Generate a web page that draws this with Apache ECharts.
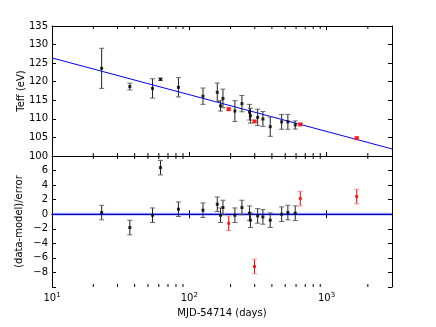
<!DOCTYPE html>
<html lang="en">
<head>
    <meta charset="UTF-8">
    <title>Teff fit</title>
    <script src="https://cdn.jsdelivr.net/npm/echarts@6/dist/echarts.min.js"></script>
</head>
<body style="margin:0">
<div id="main" style="width: 436px;height:327px;"></div>
<script>
    // black points (days since MJD 54714)
    var days = [23.0, 36.9, 54.0, 61.7, 83.4, 125.9, 160, 169, 176, 215, 242, 275, 279, 315, 344, 389, 471, 523, 592];
    var teff = [123.6, 118.7, 118.2, 120.65, 118.5, 116.1, 117.15, 113.5, 115.5, 112.1, 114.1, 111.8, 110.85, 110.4, 109.96, 107.9, 109.2, 109.2, 108.35];
    var teffErr = [5.4, 0.9, 2.6, 0.3, 2.6, 2.2, 2.5, 1.4, 2.5, 2.8, 2.2, 2.1, 2.0, 2.2, 2.0, 2.6, 2.0, 2.0, 1.1];
    var resid = [0.23, -1.83, -0.14, 6.4, 0.69, 0.55, 1.37, -0.14, 0.92, -0.14, 0.92, 0.14, -0.82, -0.23, -0.37, -0.82, 0.0, 0.23, 0.14];

    // red points
    var redDays = [194, 299, 644, 1660];
    var redTeff = [112.6, 109.3, 108.5, 104.8];
    var redErr = [0.3, 0.3, 0.3, 0.3];
    var redResid = [-1.24, -7.18, 2.15, 2.43];

    var residErr = 1;

    // model line end points and zero line
    var modelLine = [[10, 126.4], [3000, 101.9]];
    var zeroLine = [[10, 0], [3000, 0]];

    var majorX = [10, 100, 1000];
    var minorX = [20, 30, 40, 50, 60, 70, 80, 90, 200, 300, 400, 500, 600, 700, 800, 900, 2000];

    var myChart = echarts.init(document.getElementById('main'));
    var font = 'DejaVu Sans';

    function xAx(grid, pos, labels) {
        return {
            type: 'log', logBase: 10, min: 10, max: 3000, gridIndex: grid, position: pos,
            axisLine: {show: true, lineStyle: {color: '#000', width: 1}},
            axisTick: {show: true, inside: true, length: 4, lineStyle: {color: '#000'}},
            axisLabel: labels ? {
                show: true, margin: 5,
                formatter: function (v) {
                    if (majorX.indexOf(v) < 0) return '';
                    return '{b|10}{s|' + Math.round(Math.log10(v)) + '}';
                },
                rich: {
                    b: {fontFamily: font, fontSize: 10, color: '#000', lineHeight: 13},
                    s: {fontFamily: font, fontSize: 7, color: '#000', lineHeight: 13, verticalAlign: 'top'}
                }
            } : {show: false},
            splitLine: {show: false},
            name: labels ? 'MJD-54714 (days)' : '',
            nameLocation: 'middle', nameGap: 21,
            nameTextStyle: {fontFamily: font, fontSize: 10, color: '#000'}
        };
    }

    function yAx(grid, pos, min, max, labels, name, fmt) {
        return {
            type: 'value', gridIndex: grid, position: pos, min: min, max: max, interval: grid === 0 ? 5 : 2,
            axisLine: {show: true, lineStyle: {color: '#000', width: 1}},
            axisTick: {show: true, inside: true, length: 4, lineStyle: {color: '#000'}},
            axisLabel: {show: labels, margin: 4, fontFamily: font, fontSize: 10, color: '#000', formatter: fmt},
            splitLine: {show: false},
            name: labels ? name : '', nameLocation: 'middle', nameGap: grid === 0 ? 26 : 28,
            nameMoveOverlap: false,
            nameTextStyle: {fontFamily: font, fontSize: 10, color: '#000'}
        };
    }

    function residFmt(v) {
        if (v === 8 || v === -10) return '';
        return v < 0 ? '\u2212' + Math.abs(v) : '' + v;
    }

    function errBars(color, capColor) {
        return function (params, api) {
            var x = api.value(0);
            var p1 = api.coord([x, api.value(1)]);
            var p2 = api.coord([x, api.value(2)]);
            var w = 2.5;
            return {
                type: 'group', children: [
                    {type: 'line', shape: {x1: p1[0], y1: p1[1], x2: p2[0], y2: p2[1]}, style: {stroke: color, lineWidth: 1}},
                    {type: 'line', shape: {x1: p1[0] - w, y1: p1[1], x2: p1[0] + w, y2: p1[1]}, style: {stroke: capColor, lineWidth: 1}},
                    {type: 'line', shape: {x1: p2[0] - w, y1: p2[1], x2: p2[0] + w, y2: p2[1]}, style: {stroke: capColor, lineWidth: 1}}
                ]
            };
        };
    }

    // minor log tick on one edge of a panel (dir: +1 down, -1 up)
    function minorTick(yEdge, dir) {
        return function (params, api) {
            var p = api.coord([api.value(0), yEdge]);
            return {type: 'line', shape: {x1: p[0], y1: p[1], x2: p[0], y2: p[1] + dir * 3},
                style: {stroke: '#000', lineWidth: 1}};
        };
    }

    function barData(xs, ys, es) {
        return xs.map(function (x, i) {
            var e = Array.isArray(es) ? es[i] : es;
            return [x, ys[i] - e, ys[i] + e];
        });
    }
    function ptData(xs, ys) {
        return xs.map(function (x, i) { return [x, ys[i]]; });
    }
    var minorData = minorX.map(function (x) { return [x, 0]; });

    function tickSeries(xi, yi, yEdge, dir) {
        return {type: 'custom', xAxisIndex: xi, yAxisIndex: yi, renderItem: minorTick(yEdge, dir),
            data: minorData, encode: {x: 0}, clip: false, silent: true, z: 6};
    }

    var option = {
        animation: false,
        backgroundColor: '#fff',
        grid: [
            {left: 52, right: 44, top: 26, height: 130},
            {left: 52, right: 44, top: 156, height: 131}
        ],
        xAxis: [
            xAx(0, 'bottom', false), xAx(0, 'top', false),
            xAx(1, 'bottom', true), xAx(1, 'top', false)
        ],
        yAxis: [
            yAx(0, 'left', 100, 135, true, 'Teff (eV)'), yAx(0, 'right', 100, 135, false),
            yAx(1, 'left', -10, 8, true, '(data-model)/error', residFmt), yAx(1, 'right', -10, 8, false)
        ],
        series: [
            tickSeries(0, 0, 135, 1),
            tickSeries(0, 0, 100, -1),
            tickSeries(2, 2, 8, 1),
            tickSeries(2, 2, -10, -1),
            {type: 'line', xAxisIndex: 0, yAxisIndex: 0, data: modelLine, symbol: 'none',
                lineStyle: {color: '#0000ff', width: 1}, z: 3},
            {type: 'line', xAxisIndex: 2, yAxisIndex: 2, data: zeroLine, symbol: 'none',
                lineStyle: {color: 'rgba(0,0,255,0.25)', width: 3}, z: 2},
            {type: 'line', xAxisIndex: 2, yAxisIndex: 2, data: zeroLine, symbol: 'none',
                lineStyle: {color: '#0000ff', width: 1}, z: 2},
            {type: 'custom', xAxisIndex: 0, yAxisIndex: 0, renderItem: errBars('#222', '#666'),
                data: barData(days, teff, teffErr), encode: {x: 0, y: [1, 2]}, z: 4},
            {type: 'custom', xAxisIndex: 0, yAxisIndex: 0, renderItem: errBars('#e00', '#f66'),
                data: barData(redDays, redTeff, redErr), encode: {x: 0, y: [1, 2]}, z: 4},
            {type: 'custom', xAxisIndex: 2, yAxisIndex: 2, renderItem: errBars('#222', '#666'),
                data: barData(days, resid, residErr), encode: {x: 0, y: [1, 2]}, z: 4},
            {type: 'custom', xAxisIndex: 2, yAxisIndex: 2, renderItem: errBars('#e00', '#f88'),
                data: barData(redDays, redResid, residErr), encode: {x: 0, y: [1, 2]}, z: 4},
            {type: 'scatter', xAxisIndex: 0, yAxisIndex: 0, data: ptData(days, teff),
                symbol: 'rect', symbolSize: 3, itemStyle: {color: '#000'}, z: 5},
            {type: 'scatter', xAxisIndex: 0, yAxisIndex: 0, data: ptData(redDays, redTeff),
                symbol: 'rect', symbolSize: 4, itemStyle: {color: '#f00'}, z: 5},
            {type: 'scatter', xAxisIndex: 2, yAxisIndex: 2, data: ptData(days, resid),
                symbol: 'rect', symbolSize: 3, itemStyle: {color: '#000'}, z: 5},
            {type: 'scatter', xAxisIndex: 2, yAxisIndex: 2, data: ptData(redDays, redResid),
                symbol: 'rect', symbolSize: 3, itemStyle: {color: '#f00'}, z: 5}
        ]
    };
    myChart.setOption(option);
</script>
</body>
</html>
